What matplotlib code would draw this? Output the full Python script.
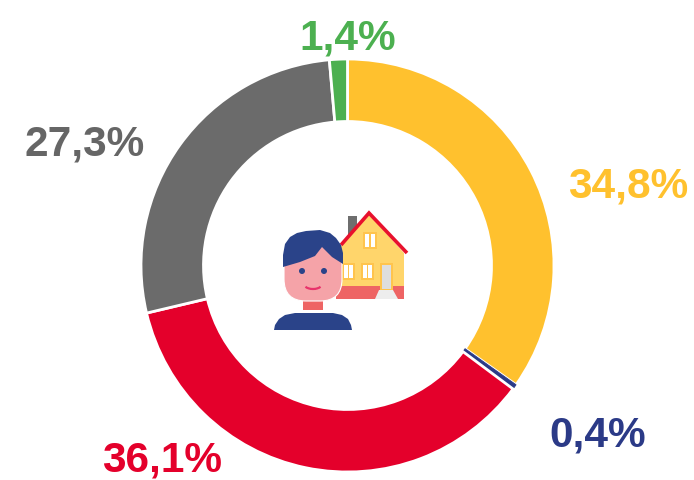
import matplotlib
matplotlib.use("Agg")
import matplotlib.pyplot as plt
from matplotlib.patches import Polygon, Rectangle, Ellipse, FancyBboxPatch, Arc

plt.rcParams['font.family'] = ['Liberation Sans', 'DejaVu Sans']

labels = ["34,8%", "0,4%", "36,1%", "27,3%", "1,4%"]
values = [34.8, 0.4, 36.1, 27.3, 1.4]
colors = ["#FFC12E", "#2B3A87", "#E4002B", "#6B6B6B", "#4CB050"]
label_pos = [(628, 198), (598, 447), (162, 472), (85, 156), (348, 49)]
label_colors = ["#FFC12E", "#2B3A87", "#E4002B", "#666666", "#4CB050"]

fig = plt.figure(figsize=(6.94, 4.81), dpi=100)

# Donut (y axis upward, so the clockwise order stays as in the reference)
pax = fig.add_axes([0, 0, 1, 1])
wedges, _ = pax.pie(values, colors=colors, startangle=90, counterclock=False,
                    center=(347.5, 481 - 266.5), radius=206.5, frame=True,
                    wedgeprops=dict(width=62.5, edgecolor="white", linewidth=2.0))
wedges[1].set_edgecolor(colors[1])
wedges[1].set_linewidth(0.6)
pax.set_xlim(0, 694)
pax.set_ylim(0, 481)
pax.set_aspect("equal")
pax.axis("off")

# Overlay in picture pixels for labels and the icon
ax = fig.add_axes([0, 0, 1, 1])
ax.set_xlim(0, 694)
ax.set_ylim(481, 0)
ax.axis("off")
ax.patch.set_alpha(0)

for t, (x, y), c in zip(labels, label_pos, label_colors):
    ax.text(x, y, t, color=c, fontsize=30.5, fontweight="bold", ha="center", va="baseline",
            clip_on=False)


def poly(pts, c, z=3):
    ax.add_patch(Polygon(pts, closed=True, facecolor=c, edgecolor="none", zorder=z))


def rect(x, y, w, h, c, z=3):
    ax.add_patch(Rectangle((x, y), w, h, facecolor=c, edgecolor="none", zorder=z))


# Icon: house
rect(348, 217, 9, 22, "#6E6E6E")
poly([(342, 246), (369, 215), (404, 254), (404, 288), (336, 288), (336, 250)], "#FFD56B")
rect(336, 287, 68, 13, "#EE6464")
ax.plot([341, 369, 407], [246, 214, 254], color="#E8112D", lw=2.6, zorder=4,
        solid_joinstyle="miter", solid_capstyle="butt")
for (x, y, w, h) in [(363, 233, 14, 17), (342, 264, 13, 17), (361, 264, 13, 17)]:
    rect(x, y, w, h, "#FFC44D", 4)
    rect(x + 2, y + 2, w - 4, h - 4, "white", 5)
    rect(x + w / 2 - 0.7, y + 2, 1.4, h - 4, "#FFC44D", 6)
rect(380, 264, 13, 27, "#FFC44D", 4)
rect(382, 266, 9, 24, "#DEDEDE", 5)
poly([(379, 291), (393, 291), (398, 300), (375, 300)], "#EDEDED", 5)

# Icon: person
rect(303, 296, 20, 15, "#EE6464", 7)
ax.add_patch(FancyBboxPatch((284, 242), 58, 60, boxstyle="round,pad=0,rounding_size=22",
                            facecolor="#F5A3A8", edgecolor="white", linewidth=0.8, zorder=7))
poly([(283, 268), (283, 256), (285, 245), (290, 238), (297, 234), (306, 232), (320, 231),
      (330, 234), (336, 239), (341, 246), (343, 254), (343, 265), (332, 258),
      (322, 248), (315, 257), (300, 263)], "#2A4389", 8)
ax.add_patch(Ellipse((302, 272), 6, 6, facecolor="#2A4389", edgecolor="none", zorder=9))
ax.add_patch(Ellipse((324, 272), 6, 6, facecolor="#2A4389", edgecolor="none", zorder=9))
ax.add_patch(Arc((313, 285), 18, 10, theta1=20, theta2=160, edgecolor="#E8336B", lw=1.6, zorder=9))
poly([(274, 331), (275, 326), (279, 320), (285, 316), (295, 314), (333, 314), (342, 316),
      (348, 320), (351, 326), (352, 331)], "#2A4389", 8)

fig.savefig("out.png", dpi=100)
